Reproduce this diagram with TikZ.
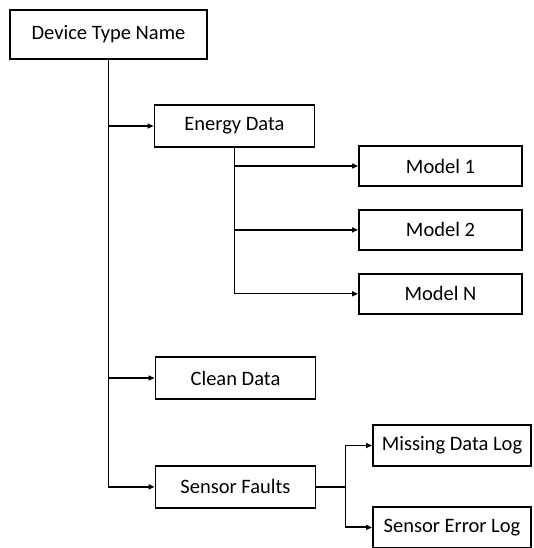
\documentclass[tikz,border=0pt]{standalone}
\usepackage{fontspec}
\setmainfont{Carlito}
\usetikzlibrary{positioning,arrows.meta}

\begin{document}
\begin{tikzpicture}[x=1pt,y=-1pt,
      >={Triangle[length=6pt,width=5pt]},
      box/.style={draw=black,line width=1.9pt,minimum width=160pt,minimum height=42pt,
                  inner sep=0pt,font=\fontsize{20.5}{24}\selectfont},
      model/.style={box,minimum width=163pt,minimum height=40pt},
      log/.style={box,minimum width=158pt,minimum height=41pt},
      trunk/.style={->,line width=1.9pt},
      arrow/.style={->,line width=1.3pt}]
    \useasboundingbox (0,0) rectangle (533,548);
    \node[box,minimum width=197pt,minimum height=49pt] (root) at (108.5,34.5) {Device Type Name};
    \node[box] (energy) at (234.5,126) {Energy Data};
    \node[model] (m1) at (440.5,166) {Model 1};
    \node[model,below=22pt of m1] (m2) {Model 2};
    \node[model,below=22pt of m2] (mn) {Model N};
    \node[box] (clean) at (235.5,378) {Clean Data};
    \node[box,below=65pt of clean] (faults) {Sensor Faults};
    \node[log] (miss) at (452,445.5) {Missing Data Log};
    \node[log,below=39pt of miss] (err) {Sensor Error Log};
    \coordinate[right=29pt of faults.east] (fork);
    % trunk from the device type
    \foreach \x in {energy,clean,faults}
      \draw[trunk] (root.south) |- (\x.west);
    % models of the energy data
    \foreach \x in {m1,m2,mn}
      \draw[arrow] (energy.south) |- (\x.west);
    % fault logs
    \draw[line width=1.9pt] (faults.east) -- (fork);
    \foreach \x in {miss,err}
      \draw[trunk] (fork) |- (\x.west);
  \end{tikzpicture}
\end{document}
